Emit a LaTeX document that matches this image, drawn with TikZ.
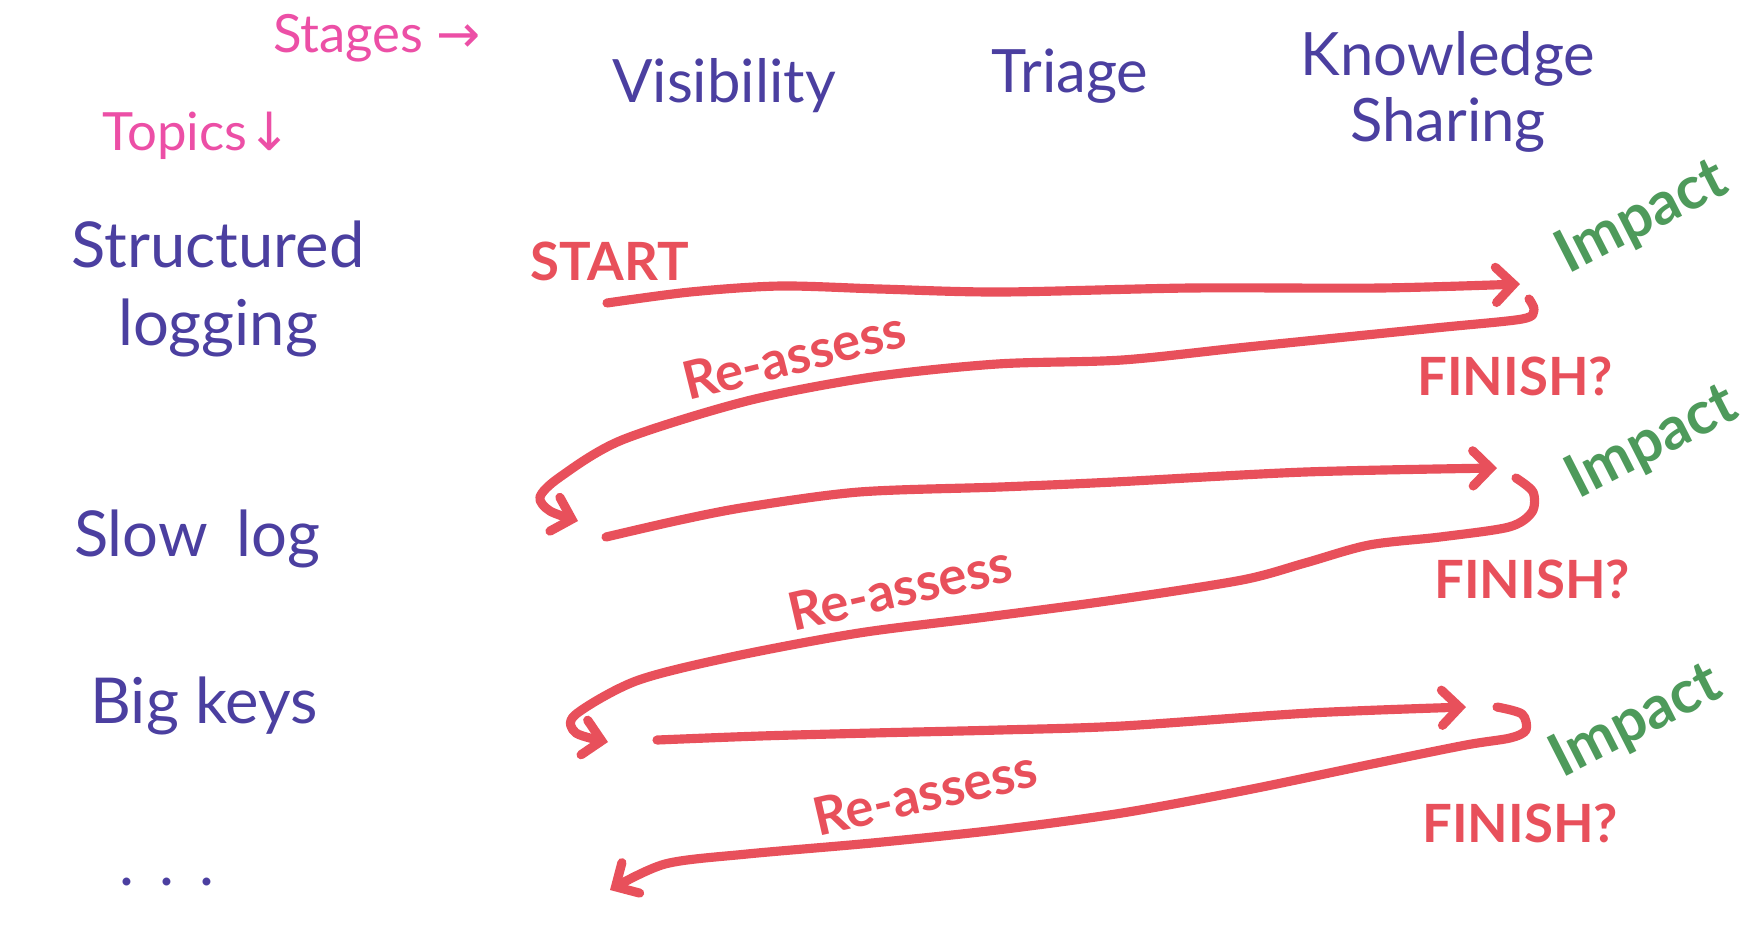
\documentclass[tikz,border=0pt]{standalone}
\usepackage{fontspec}
\setmainfont{Lato}
\newfontfamily\symfont{DejaVu Sans}
\usepackage{tikz}
\usetikzlibrary{arrows.meta}
\definecolor{inkpurple}{HTML}{4B3FA0}
\definecolor{inkpink}{HTML}{EC4FA6}
\definecolor{inkred}{HTML}{E8505B}
\definecolor{inkgreen}{HTML}{4E9A5B}

\begin{document}
\begin{tikzpicture}[x=0.01cm, y=-0.01cm, every node/.style={inner sep=0.5pt},
  topic/.style={text=inkpurple, font=\fontsize{18}{22}\selectfont, align=center},
  stagelbl/.style={text=inkpurple, font=\fontsize{17}{19}\selectfont, align=center},
  hint/.style={text=inkpink, font=\fontsize{15}{18}\selectfont},
  redlbl/.style={text=inkred, font=\bfseries\fontsize{15}{17}\selectfont},
  impactlbl/.style={text=inkgreen, font=\bfseries\fontsize{17}{19}\selectfont, rotate=27},
  marker/.style={draw=inkred, line width=2.6pt, line cap=round, line join=round,
    -{Straight Barb[length=5pt, width=10pt, line cap=round]}}]
  \useasboundingbox (0,0) rectangle (1744,929);

  % headings
  \node[hint] (stg) at (377,38) {Stages {\symfont →}};
  \node[hint] (tpc) at (197,136) {Topics{\symfont ↓}};
  \node[stagelbl] (vis) at (724,86) {Visibility};
  \node[stagelbl] (tri) at (1070,76) {Triage};
  \node[stagelbl] (kno) at (1448,92) {Knowledge\\Sharing};

  % topics
  \node[topic] (slg) at (218,289) {Structured\\logging};
  \node[topic] (slw) at (197,539) {Slow\hspace{0.45em}log};
  \node[topic] (bgk) at (204,706) {Big keys};
  \node[topic] (dts) at (167,882) {.\hspace{0.4em}.\hspace{0.4em}.};

  % red / green labels
  \node[redlbl] (st) at (610,261) {START};
  \node[redlbl, rotate=14] (ra1) at (794,355) {Re-assess};
  \node[redlbl, rotate=13] (ra2) at (900,588) {Re-assess};
  \node[redlbl, rotate=13] (ra3) at (925,793) {Re-assess};
  \node[redlbl] (fn1) at (1515,376) {FINISH?};
  \node[redlbl] (fn2) at (1532,579) {FINISH?};
  \node[redlbl] (fn3) at (1520,823) {FINISH?};
  \node[impactlbl] (im1) at (1642,218) {Impact};
  \node[impactlbl] (im2) at (1652,443) {Impact};
  \node[impactlbl] (im3) at (1636,722) {Impact};

  % loop ends
  \coordinate (r1s) at (607,303);  \coordinate (r1e) at (1520,284);
  \coordinate (b1s) at (1529,299); \coordinate (b1e) at (578,521);
  \coordinate (r2s) at (606,537);  \coordinate (r2e) at (1497,468);
  \coordinate (b2s) at (1516,478); \coordinate (b2e) at (608,742);
  \coordinate (r3s) at (657,740);  \coordinate (r3e) at (1466,707);
  \coordinate (b3s) at (1497,707); \coordinate (b3e) at (610,890);

  \draw[marker] plot[smooth] coordinates {(r1s) (690,292) (780,286) (880,289) (1000,292) (1190,288) (1380,288) (r1e)};
  \draw[marker] plot[smooth] coordinates {(b1s) (1534,310) (1522,319) (1435,328) (1247,347) (1122,360) (997,364) (872,377) (747,401) (622,440) (560,477) (540,497) (550,511) (b1e)};
  \draw[marker] plot[smooth] coordinates {(r2s) (680,520) (747,507) (859,492) (1000,487) (1114,482) (1305,472) (r2e)};
  \draw[marker] plot[smooth] coordinates {(b2s) (1533,492) (1532,512) (1509,527) (1440,537) (1369,545) (1305,563) (1242,580) (1114,600) (986,617) (859,633) (731,657) (636,681) (575,715) (576,733) (b2e)};
  \draw[marker] plot[smooth] coordinates {(r3s) (760,736) (872,733) (1000,730) (1122,726) (1310,713) (r3e)};
  \draw[marker] plot[smooth] coordinates {(b3s) (1522,714) (1526,730) (1510,738) (1466,745) (1372,764) (1247,790) (1122,813) (997,830) (872,843) (747,854) (665,864) (b3e)};
\end{tikzpicture}
\end{document}
